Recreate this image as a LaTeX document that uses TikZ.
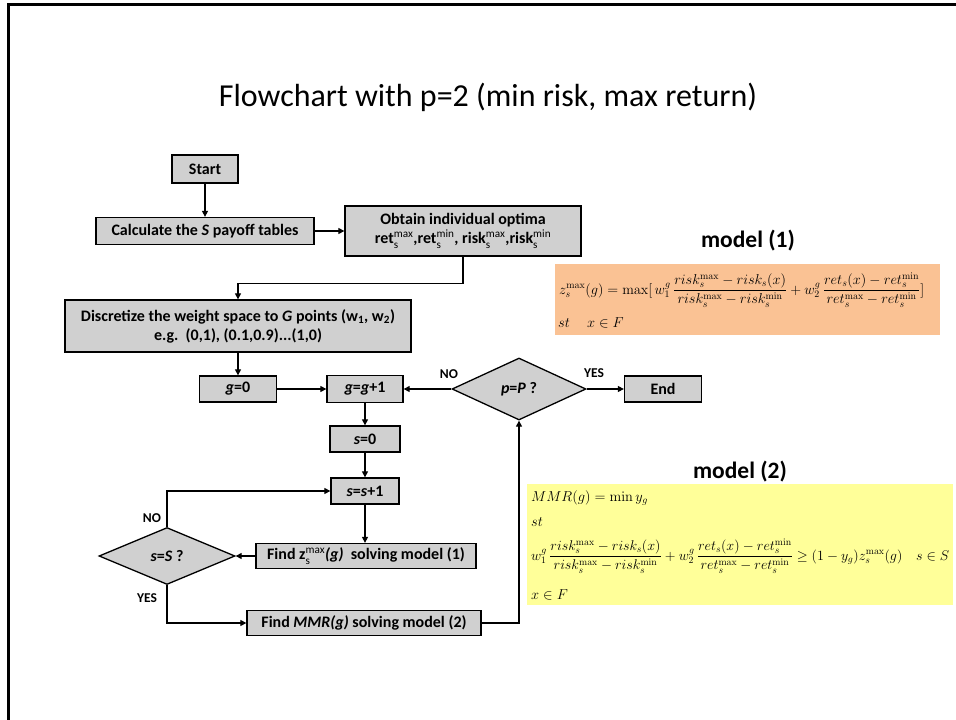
\documentclass[tikz,border=0pt]{standalone}
\usepackage{amsmath}
\usepackage[no-math]{fontspec}
\usepackage{graphicx}
\setmainfont{Carlito}
\usetikzlibrary{shapes.geometric,arrows.meta}

\definecolor{boxgray}{RGB}{208,208,208}
\definecolor{peach}{RGB}{250,194,148}
\definecolor{paleyellow}{RGB}{255,255,153}

% subscript and superscript stacked after a word, in regular weight
\newcommand\subsup[2]{$_{\text{\normalfont#1}}^{\text{\normalfont#2}}$}

\tikzset{
  stepbox/.style={draw=black, line width=1.3pt, fill=boxgray, inner sep=0pt,
    align=center, font=\bfseries\fontsize{16}{19}\selectfont},
  decision/.style={diamond, draw=black, line width=1.3pt, fill=boxgray, inner sep=0pt,
    font=\bfseries\fontsize{16}{19}\selectfont},
  flow/.style={line width=1.2pt, -{Triangle[length=6pt,width=6pt]}},
  lbl/.style={font=\bfseries\fontsize{13.5}{16}\selectfont, inner sep=0pt},
  heading/.style={font=\bfseries\fontsize{23.5}{27}\selectfont, inner sep=0pt},
  eq/.style={anchor=west, inner sep=0pt, font=\fontsize{14}{17}\selectfont},
}

\begin{document}
\begin{tikzpicture}[x=1pt,y=-1pt]
\useasboundingbox (0,0) rectangle (956,720);

% slide frame
\draw[line width=3pt] (8,720) -- (8,4) -- (956,4);

% title
\node[inner sep=0pt, font=\fontsize{32}{36}\selectfont] (title) at (488,97)
  {Flowchart with p=2 (min risk, max return)};

% process steps
\node[stepbox, minimum width=66pt, minimum height=28pt] (start) at (205,169) {Start};
\node[stepbox, minimum width=218pt, minimum height=27pt] (calc) at (205,231)
  {Calculate the \textit{S} payoff tables};
\node[stepbox, minimum width=236pt, minimum height=50pt] (optima) at (463,231)
  {Obtain individual optima\\
   ret\subsup{s}{max},ret\subsup{s}{min}, risk\subsup{s}{max},risk\subsup{s}{min}};
\node[stepbox, minimum width=346pt, minimum height=52pt] (disc) at (238,326)
  {Discretize the weight space to \textit{G} points (w\textsubscript{1}, w\textsubscript{2})\\
   e.g.\ \ (0,1), (0.1,0.9)...(1,0)};
\node[stepbox, minimum width=77pt, minimum height=26pt] (gzero) at (238,389) {\textit{g}=0};
\node[stepbox, minimum width=76pt, minimum height=27pt] (gnext) at (365,389) {\textit{g}=\textit{g}+1};
\node[decision, minimum width=134pt, minimum height=62pt] (pcheck) at (519,389) {\textit{p}=\textit{P} ?};
\node[stepbox, minimum width=77pt, minimum height=26pt] (finish) at (663,389) {End};
\node[stepbox, minimum width=70pt, minimum height=26pt] (szero) at (365,439) {\textit{s}=0};
\node[stepbox, minimum width=68pt, minimum height=26pt] (snext) at (365,491) {\textit{s}=\textit{s}+1};
\node[stepbox, minimum width=220pt, minimum height=25pt] (findz) at (366,556)
  {Find z\subsup{s}{max}\textit{(g)}\ \ solving model (1)};
\node[decision, minimum width=136pt, minimum height=57pt] (scheck) at (167,556) {\textit{s}=\textit{S} ?};
\node[stepbox, minimum width=234pt, minimum height=25pt] (findmmr) at (364,623)
  {Find \textit{MMR(g)} solving model (2)};

% connectors
\draw[flow] (start) -- (calc);
\draw[flow] (calc) -- (optima);
\draw[flow] (optima.south) -- ++(0,27) -| (disc.north);
\draw[flow] (disc) -- (gzero);
\draw[flow] (gzero) -- (gnext);
\draw[flow] (pcheck.west) -- (gnext.east);
\draw[flow] (pcheck.east) -- (finish.west);
\draw[flow] (gnext) -- (szero);
\draw[flow] (szero) -- (snext);
\draw[flow] (snext.south) -- (snext.south |- findz.north);
\draw[flow] (findz.west) -- (scheck.east);
\draw[flow] (scheck.north) |- (snext.west);
\draw[flow] (scheck.south) |- (findmmr.west);
\draw[flow] (findmmr.east) -| (pcheck.south);

% branch labels
\node[lbl] (noP) at (449,374) {NO};
\node[lbl] (yesP) at (594,373) {YES};
\node[lbl] (noS) at (152,518) {NO};
\node[lbl] (yesS) at (147,598) {YES};

% model (1)
\node[heading] (m1title) at (748,241) {model (1)};
\fill[peach] (555,264) rectangle (940,335);
\node[eq] (m1obj) at (559,290) {\resizebox{365pt}{!}{$\displaystyle
  z_s^{\max}(g)=\max[\,w_1^g\,\frac{risk_s^{\max}-risk_s(x)}{risk_s^{\max}-risk_s^{\min}}
  +w_2^g\,\frac{ret_s(x)-ret_s^{\min}}{ret_s^{\max}-ret_s^{\min}}]$}};
\node[eq] (m1st) at (558,323) {$st\quad\ x\in F$};

% model (2)
\node[heading] (m2title) at (740,472) {model (2)};
\fill[paleyellow] (527,484) rectangle (953,605);
\node[eq] (m2obj) at (531,498) {$MMR(g)=\min y_g$};
\node[eq] (m2st) at (531,522) {$st$};
\node[eq] (m2con) at (531,556) {\resizebox{418pt}{!}{$\displaystyle
  w_1^g\,\frac{risk_s^{\max}-risk_s(x)}{risk_s^{\max}-risk_s^{\min}}
  +w_2^g\,\frac{ret_s(x)-ret_s^{\min}}{ret_s^{\max}-ret_s^{\min}}
  \ge(1-y_g)z_s^{\max}(g)\quad s\in S$}};
\node[eq] (m2dom) at (531,595) {$x\in F$};
\end{tikzpicture}
\end{document}
